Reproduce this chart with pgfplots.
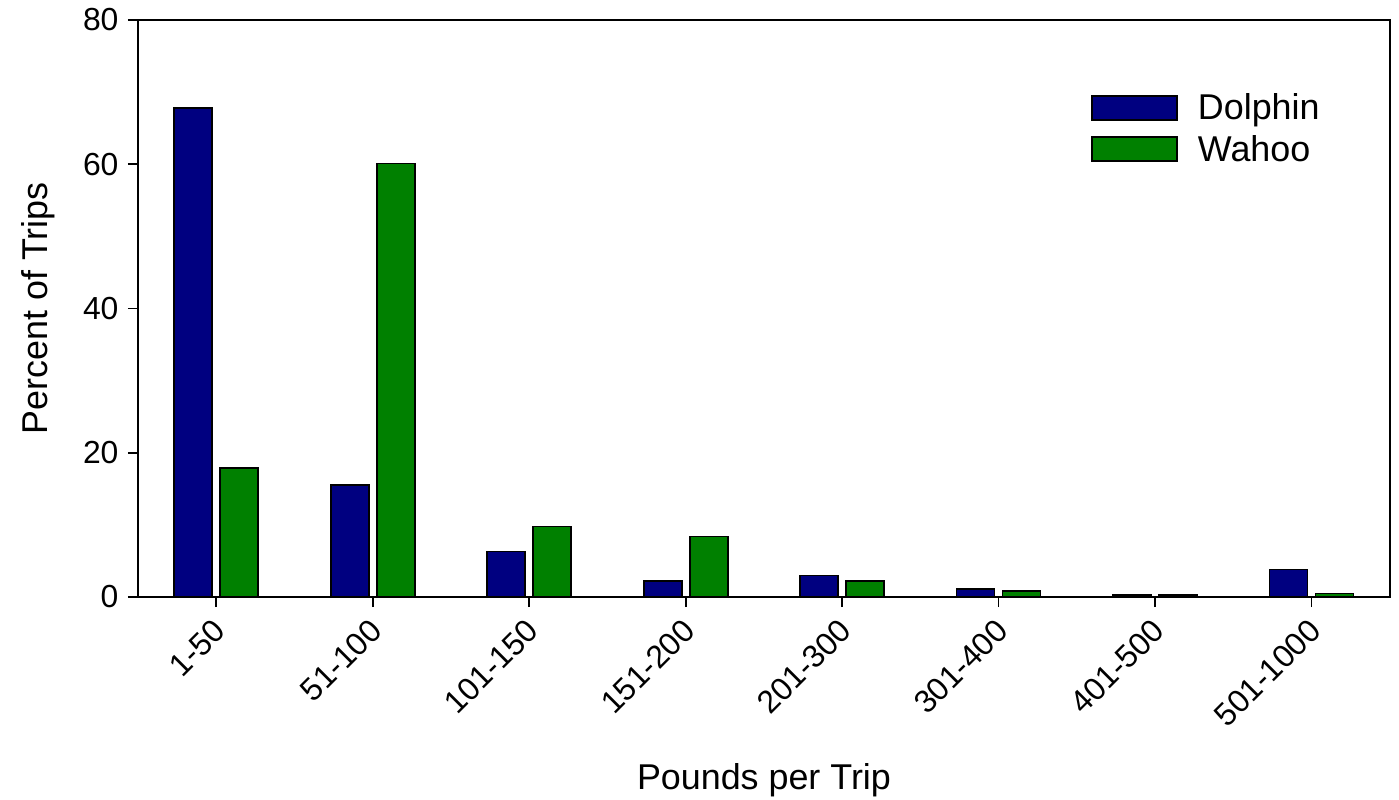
\documentclass[border=0pt]{standalone}
\usepackage{fontspec}
\setmainfont{Liberation Sans}
\usepackage{pgfplots}
\pgfplotsset{compat=1.18}
\definecolor{dolphin}{RGB}{0,0,128}
\definecolor{wahoo}{RGB}{0,128,0}
\begin{document}
\begin{tikzpicture}
\path[use as bounding box] (0,0) rectangle (1399bp,800bp);
\begin{axis}[
    at={(138bp,203bp)}, anchor=south west,
    scale only axis,
    width=1252bp, height=577bp,
    ybar=8bp, bar width=38bp,
    xmin=-0.5, xmax=7.5,
    ymin=0, ymax=80,
    xtick=data,
    xticklabels={1-50,51-100,101-150,151-200,201-300,301-400,401-500,501-1000},
    ytick={0,20,40,60,80},
    tick pos=left, tick align=outside,
    major tick length=10bp,
    axis line style={line width=1.6bp},
    every tick/.style={black, line width=1.6bp},
    tick label style={font=\fontsize{32}{38}\selectfont},
    label style={font=\fontsize{36}{42}\selectfont},
    /pgf/number format/assume math mode=true,
    x tick label style={yshift=-16bp, xshift=6bp, rotate=45, anchor=east},
    y tick label style={xshift=-6bp},
    xlabel={Pounds per Trip},
    ylabel={Percent of Trips},
    xlabel style={at={(axis description cs:0.5,-0.317)}, anchor=center},
    ylabel style={at={(axis description cs:-0.080,0.5)}, anchor=center, rotate=0},
    legend style={draw=none, fill=none, at={(axis description cs:0.759,0.879)},
        anchor=north west, row sep=10bp, font=\fontsize{36}{42}\selectfont,
        /tikz/every odd column/.append style={column sep=18bp}},
    legend cell align=left,
    legend image code/.code={\draw[#1, draw=black, line width=1.6bp] (0bp,-12bp) rectangle (85bp,12bp);},
]
\addplot[fill=dolphin, draw=black, line width=1.6bp] coordinates {
    (0,67.8) (1,15.5) (2,6.3) (3,2.2) (4,3.0) (5,1.1) (6,0.3) (7,3.8)
};
\addplot[fill=wahoo, draw=black, line width=1.6bp] coordinates {
    (0,17.9) (1,60.1) (2,9.8) (3,8.4) (4,2.2) (5,0.8) (6,0.3) (7,0.5)
};
\legend{Dolphin, Wahoo}
\end{axis}
\end{tikzpicture}
\end{document}
